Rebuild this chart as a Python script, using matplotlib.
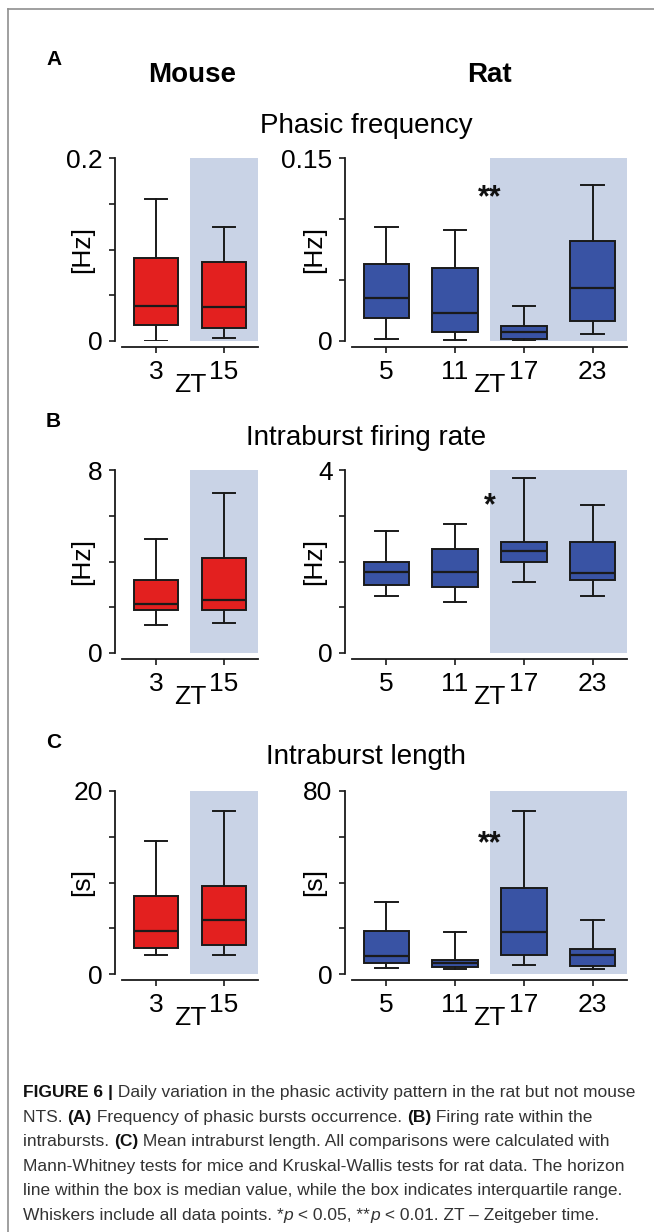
import matplotlib
matplotlib.use("Agg")
import matplotlib.pyplot as plt
from matplotlib.lines import Line2D
import matplotlib.transforms as mtransforms

W, H, DPI = 654, 1232, 100

# ---------------- data ----------------
mouse_zt = ["3", "15"]
rat_zt = ["5", "11", "17", "23"]

# five-number summaries per ZT: [whisker low, Q1, median, Q3, whisker high]
freq_mouse = [[0.0005, 0.0175, 0.0386, 0.0904, 0.155],
              [0.003, 0.0139, 0.0372, 0.0863, 0.125]]
freq_rat = [[0.0019, 0.0186, 0.0352, 0.0631, 0.0937],
            [0.0008, 0.0071, 0.0230, 0.0596, 0.0907],
            [0.0002, 0.0019, 0.0076, 0.0123, 0.0287],
            [0.0057, 0.0164, 0.0434, 0.0820, 0.1279]]
rate_mouse = [[1.21, 1.89, 2.14, 3.19, 4.97],
              [1.29, 1.86, 2.31, 4.15, 6.98]]
rate_rat = [[1.25, 1.49, 1.76, 1.99, 2.67],
            [1.11, 1.44, 1.77, 2.28, 2.83],
            [1.55, 2.00, 2.24, 2.42, 3.82],
            [1.25, 1.59, 1.75, 2.43, 3.23]]
length_mouse = [[2.08, 2.85, 4.74, 8.5, 14.5],
                [2.08, 3.18, 5.88, 9.67, 17.85]]
length_rat = [[2.8, 4.8, 8.0, 19.0, 31.5],
              [2.3, 2.9, 4.7, 6.1, 18.4],
              [3.9, 8.3, 18.2, 37.5, 71.1],
              [2.2, 3.4, 8.3, 11.1, 23.4]]

panel_letters = ["A", "B", "C"]
panel_titles = ["Phasic frequency", "Intraburst firing rate", "Intraburst length"]
units = ["[Hz]", "[Hz]", "[s]"]
mouse_ymax = [0.2, 8, 20]
mouse_ntick = [4, 4, 4]
mouse_toplabel = ["0.2", "8", "20"]
rat_ymax = [0.15, 4, 80]
rat_ntick = [3, 4, 4]
rat_toplabel = ["0.15", "4", "80"]
sig_marks = ["**", "*", "**"]
sig_y = [0.124, 3.41, 60.8]

mouse_data = [freq_mouse, rate_mouse, length_mouse]
rat_data = [freq_rat, rate_rat, length_rat]

caption_lines = [
    [("FIGURE 6 ", "bold", "normal"), ("|", "bold", "normal"),
     (" Daily variation in the phasic activity pattern in the rat but not mouse", "normal", "normal")],
    [("NTS. ", "normal", "normal"), ("(A)", "bold", "normal"),
     (" Frequency of phasic bursts occurrence. ", "normal", "normal"), ("(B)", "bold", "normal"),
     (" Firing rate within the", "normal", "normal")],
    [("intrabursts. ", "normal", "normal"), ("(C)", "bold", "normal"),
     (" Mean intraburst length. All comparisons were calculated with", "normal", "normal")],
    [("Mann-Whitney tests for mice and Kruskal-Wallis tests for rat data. The horizon", "normal", "normal")],
    [("line within the box is median value, while the box indicates interquartile range.", "normal", "normal")],
    [("Whiskers include all data points. *", "normal", "normal"), ("p", "normal", "italic"),
     (" < 0.05, **", "normal", "normal"), ("p", "normal", "italic"),
     (" < 0.01. ZT \u2013 Zeitgeber time.", "normal", "normal")],
]

# ---------------- style ----------------
FONT = ["Liberation Sans", "DejaVu Sans"]
CAP_FONT = ["Liberation Sans", "DejaVu Sans"]
plt.rcParams["font.family"] = FONT
RED = "#e3201f"
BLUE = "#3953a4"
SHADE = "#c9d3e6"
EDGE = "#1a1a1a"
TICK_FS = 19
TITLE_FS = 20

fig = plt.figure(figsize=(W / DPI, H / DPI), dpi=DPI)
fig.patch.set_facecolor("white")

axes_top = [158, 470, 791]
AX_H = 183
mouse_x = (122, 258)
rat_x = (352, 627)
letter_base = [65, 427, 748]
title_base = [133, 445, 764]


def add_px_axes(x0, x1, top):
    return fig.add_axes([x0 / W, 1 - (top + AX_H) / H, (x1 - x0) / W, AX_H / H])


def draw_panel(ax, data, labels, color, ymax, ntick, toplabel, shade_from):
    n = len(data)
    stats = [dict(whislo=d[0], q1=d[1], med=d[2], q3=d[3], whishi=d[4], label=l)
             for d, l in zip(data, labels)]
    ax.axvspan(shade_from, n - 0.5, color=SHADE, lw=0, zorder=0)
    ax.bxp(stats, positions=list(range(n)), widths=0.66, patch_artist=True,
           showfliers=False, manage_ticks=False,
           boxprops=dict(facecolor=color, edgecolor=EDGE, linewidth=1.4),
           medianprops=dict(color=EDGE, linewidth=1.6),
           whiskerprops=dict(color=EDGE, linewidth=1.4),
           capprops=dict(color=EDGE, linewidth=1.4))
    ax.set_xlim(-0.5, n - 0.5)
    ax.set_ylim(0, ymax)
    for s in ("top", "right"):
        ax.spines[s].set_visible(False)
    ax.spines["left"].set_position(("outward", 5))
    ax.spines["left"].set_bounds(0, ymax)
    ax.spines["bottom"].set_position(("outward", 4))
    for s in ("left", "bottom"):
        ax.spines[s].set_linewidth(1.3)
        ax.spines[s].set_color(EDGE)
    ticks = [ymax * i / ntick for i in range(ntick + 1)]
    ax.set_yticks(ticks)
    ax.set_yticklabels(["0"] + [""] * (ntick - 1) + [toplabel])
    ax.set_xticks(list(range(n)))
    ax.set_xticklabels(labels)
    ax.tick_params(axis="y", direction="out", length=4, width=1.2, pad=5,
                   labelsize=TICK_FS, color=EDGE)
    ax.tick_params(axis="x", direction="out", length=4, width=1.2, pad=6,
                   labelsize=TICK_FS, color=EDGE)
    ax.patch.set_alpha(0)


for i in range(3):
    top = axes_top[i]
    axm = add_px_axes(*mouse_x, top)
    axr = add_px_axes(*rat_x, top)
    draw_panel(axm, mouse_data[i], mouse_zt, RED, mouse_ymax[i], mouse_ntick[i],
               mouse_toplabel[i], 0.5)
    draw_panel(axr, rat_data[i], rat_zt, BLUE, rat_ymax[i], rat_ntick[i],
               rat_toplabel[i], 1.5)
    # unit labels
    cy = 1 - (top + AX_H / 2) / H
    fig.text(82 / W, cy, units[i], rotation=90, ha="center", va="center", fontsize=TICK_FS)
    fig.text(314 / W, cy, units[i], rotation=90, ha="center", va="center", fontsize=TICK_FS)
    # ZT labels
    zt_y = 1 - (top + AX_H + 44) / H
    for ax, xpos in ((axm, 0.5), (axr, 1.5)):
        tr = mtransforms.blended_transform_factory(ax.transData, fig.transFigure)
        ax.text(xpos, zt_y, "ZT", transform=tr, ha="center", va="center", fontsize=TICK_FS)
    # significance
    tr = mtransforms.offset_copy(axr.transData, fig=fig, y=-17, units="dots")
    axr.text(1.5, sig_y[i], sig_marks[i], transform=tr, ha="center", va="baseline",
             fontsize=22, fontweight="bold", color="#111111")
    # titles and panel letters
    fig.text(366 / W, 1 - title_base[i] / H, panel_titles[i], ha="center", va="baseline",
             fontsize=TITLE_FS)
    fig.text(46 / W, 1 - letter_base[i] / H, panel_letters[i], ha="left", va="baseline",
             fontsize=15, fontweight="bold")

fig.text(192 / W, 1 - 82 / H, "Mouse", ha="center", va="baseline", fontsize=20, fontweight="bold")
fig.text(489 / W, 1 - 82 / H, "Rat", ha="center", va="baseline", fontsize=20, fontweight="bold")

# frame lines
GRAY = "#8f8f8f"
fig.add_artist(Line2D([8 / W, 8 / W], [0, 1 - 9 / H], transform=fig.transFigure, color=GRAY, lw=1.2))
fig.add_artist(Line2D([8 / W, 1], [1 - 9 / H, 1 - 9 / H], transform=fig.transFigure, color=GRAY, lw=1.2))

# caption
renderer = fig.canvas.get_renderer()


def run_width(s, size, weight, style):
    t = fig.text(0, 0, "|" + s + "|", fontsize=size, fontweight=weight, fontstyle=style,
                 family=CAP_FONT)
    w1 = t.get_window_extent(renderer).width
    t.set_text("||")
    w2 = t.get_window_extent(renderer).width
    t.remove()
    return w1 - w2


def line_width(runs, size):
    return sum(run_width(s, size, w, st) for s, w, st in runs)


cap_size = 10 * 612 / line_width(caption_lines[0], 10)
cap_left = 23
for k, runs in enumerate(caption_lines):
    x = cap_left
    yb = 1097 + k * 24.6
    for s, w, st in runs:
        col = "#111111" if w == "bold" else "#333333"
        fig.text(x / W, 1 - yb / H, s, fontsize=cap_size, fontweight=w, fontstyle=st,
                 family=CAP_FONT, ha="left", va="baseline", color=col)
        x += run_width(s, cap_size, w, st)

fig.savefig("out.png", dpi=DPI, facecolor="white")
